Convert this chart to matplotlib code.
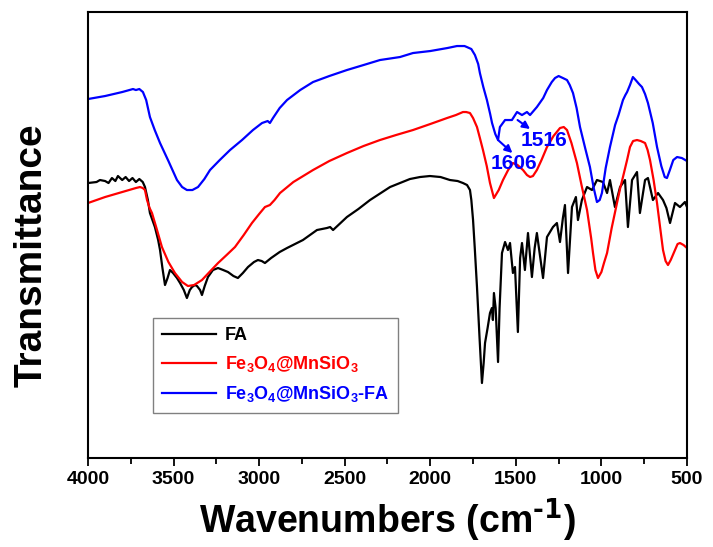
import numpy as np
import matplotlib
matplotlib.use("Agg")
import matplotlib.pyplot as plt

plt.rcParams['font.family'] = ['Liberation Sans', 'DejaVu Sans']
plt.rcParams['font.weight'] = 'bold'
plt.rcParams['mathtext.default'] = 'regular'

# FTIR spectra (wavenumber cm-1, transmittance a.u.)
fa_wn = [4000, 3950, 3930, 3900, 3880, 3860, 3840, 3825, 3800, 3780, 3760, 3740,
         3720, 3700, 3680, 3667, 3650, 3638, 3609, 3590, 3579, 3565, 3550, 3535,
         3521, 3503, 3480, 3462, 3440, 3422, 3405, 3392, 3375, 3363, 3345, 3334,
         3318, 3299, 3270, 3240, 3210, 3182, 3150, 3124, 3095, 3065, 3030, 3007,
         2985, 2966, 2930, 2880, 2837, 2744, 2662, 2604, 2585, 2568, 2487, 2420,
         2352, 2235, 2119, 2060, 2002, 1940, 1885, 1840, 1809, 1785, 1768, 1760,
         1750, 1740, 1727, 1712, 1698, 1688, 1680, 1665, 1651, 1640, 1634, 1628,
         1618, 1604, 1595, 1581, 1563, 1546, 1534, 1517, 1505, 1488, 1475, 1464,
         1447, 1429, 1406, 1390, 1377, 1341, 1318, 1283, 1260, 1242, 1225, 1213,
         1195, 1172, 1149, 1137, 1114, 1084, 1055, 1026, 991, 967, 950, 921,
         891, 862, 845, 821, 792, 775, 745, 728, 699, 669, 640, 620, 599, 570,
         541, 512, 500]
fa_t = [275, 276, 278, 277, 275, 280, 277, 282, 278, 281, 277, 280,
        276, 279, 276, 271, 258, 245, 231, 218, 208, 190, 173, 180,
        188, 185, 180, 175, 168, 160, 168, 171, 173, 172, 168, 163,
        172, 181, 188, 190, 188, 186, 182, 180, 185, 191, 196, 198,
        197, 195, 200, 206, 210, 218, 228, 230, 231, 228, 241, 249,
        258, 271, 279, 281, 282, 281, 278, 277, 275, 273, 268, 258,
        238, 210, 171, 120, 75, 95, 115, 130, 145, 150, 138, 165,
        150, 96, 150, 205, 216, 208, 215, 185, 191, 126, 200, 215,
        188, 225, 181, 210, 225, 180, 221, 231, 235, 216, 240, 253,
        185, 251, 261, 238, 258, 271, 268, 278, 276, 265, 278, 251,
        271, 278, 231, 278, 286, 245, 278, 280, 258, 265, 258, 250, 235, 255,
        251, 256, 251]

mn_wn = [4000, 3900, 3800, 3720, 3696, 3680, 3667, 3655, 3640, 3626, 3600, 3568,
         3530, 3492, 3450, 3416, 3380, 3334, 3290, 3240, 3190, 3141, 3090, 3042,
         3000, 2966, 2937, 2910, 2878, 2800, 2685, 2590, 2487, 2390, 2294, 2200,
         2101, 2000, 1902, 1850, 1809, 1790, 1768, 1750, 1727, 1710, 1692, 1670,
         1651, 1628, 1600, 1575, 1545, 1517, 1490, 1458, 1435, 1417, 1400, 1377,
         1350, 1318, 1280, 1242, 1220, 1201, 1175, 1143, 1115, 1084, 1060, 1049,
         1035, 1020, 1000, 985, 967, 940, 909, 890, 874, 850, 833, 815, 792,
         770, 745, 730, 716, 695, 675, 655, 640, 625, 611, 595, 580, 570, 555,
         541, 520, 500]
mn_t = [255, 261, 266, 270, 271, 270, 268, 258, 250, 245, 230, 211,
        196, 185, 176, 172, 173, 178, 186, 195, 203, 211, 223, 235,
        244, 251, 253, 258, 265, 276, 288, 297, 305, 312, 318, 323,
        328, 334, 340, 343, 346, 346, 345, 340, 331, 320, 308, 292,
        275, 260, 268, 278, 288, 295, 293, 288, 283, 281, 282, 288,
        298, 311, 322, 330, 331, 328, 315, 295, 272, 248, 220, 205,
        188, 180, 186, 195, 205, 230, 255, 270, 281, 298, 311, 317, 318,
        317, 315, 308, 298, 278, 255, 228, 208, 197, 193, 198, 204, 208, 214,
        215, 213, 210]

mnfa_wn = [4000, 3900, 3800, 3737, 3720, 3700, 3679, 3660, 3638, 3610, 3579, 3530,
           3480, 3450, 3422, 3390, 3357, 3320, 3287, 3230, 3170, 3100, 3036, 2983,
           2950, 2937, 2919, 2880, 2837, 2760, 2685, 2590, 2487, 2390, 2294, 2177,
           2101, 2000, 1900, 1844, 1800, 1786, 1760, 1739, 1720, 1710, 1690, 1669,
           1650, 1639, 1620, 1604, 1593, 1563, 1523, 1493, 1464, 1435, 1417, 1377,
           1340, 1318, 1290, 1271, 1250, 1225, 1201, 1185, 1166, 1145, 1125, 1095,
           1067, 1045, 1026, 1010, 997, 975, 950, 920, 900, 874, 860, 850, 833,
           816, 800, 780, 763, 745, 728, 700, 675, 650, 630, 617, 600, 580, 558,
           530, 500]
mnfa_t = [359, 362, 366, 369, 368, 369, 366, 358, 341, 328, 315, 297,
          278, 271, 268, 268, 271, 279, 288, 298, 308, 318, 328, 335,
          337, 335, 340, 350, 358, 368, 376, 382, 388, 393, 398, 401,
          405, 407, 410, 412, 412, 411, 409, 403, 394, 385, 371, 358,
          344, 335, 324, 318, 331, 338, 338, 346, 343, 346, 343, 351,
          360, 368, 376, 380, 382, 380, 378, 373, 365, 350, 331, 310,
          291, 270, 256, 258, 265, 290, 311, 333, 343, 358, 363, 366, 373,
          381, 378, 374, 371, 364, 355, 335, 311, 292, 281, 280, 288, 298, 301,
          300, 297]

names = ['FA', 'Fe$_3$O$_4$@MnSiO$_3$', 'Fe$_3$O$_4$@MnSiO$_3$-FA']
colors = ['#000000', '#ff0000', '#0000ff']
xticks = [4000, 3500, 3000, 2500, 2000, 1500, 1000, 500]

fig = plt.figure(figsize=(7.13, 5.47), dpi=100)
ax = fig.add_axes([0.1234, 0.1627, 0.8401, 0.8153])

for wn, t, name, c in zip([fa_wn, mn_wn, mnfa_wn], [fa_t, mn_t, mnfa_t], names, colors):
    ax.plot(wn, t, color=c, lw=1.6, label=name)

ax.set_xlim(4000, 500)
ax.set_ylim(0, 446)
ax.set_xticks(xticks)
ax.set_xticks([3750, 3250, 2750, 2250, 1750, 1250, 750], minor=True)
ax.set_yticks([])
ax.tick_params(axis='x', which='major', direction='out', length=6, width=1.3,
               labelsize=14, pad=3, top=False)
ax.tick_params(axis='x', which='minor', direction='out', length=4, width=1.3, top=False)
for lab in ax.get_xticklabels():
    lab.set_fontweight('bold')
for s in ax.spines.values():
    s.set_linewidth(1.5)

ax.set_xlabel(r'Wavenumbers (cm$^{\text{-1}}$)', fontsize=27, fontweight='bold', labelpad=6)
ax.set_ylabel('Transmittance', fontsize=28, fontweight='bold')
ax.yaxis.set_label_coords(-0.064, 0.455)

# peak labels
arrow = dict(arrowstyle='-|>', color='#0000ff', lw=1.5, mutation_scale=11,
             shrinkA=0, shrinkB=0)
ax.annotate('', xy=(1520, 305), xytext=(1604, 318), arrowprops=arrow)
ax.annotate('', xy=(1417, 329), xytext=(1490, 338), arrowprops=arrow)
ax.text(1511, 295, '1606', color='#0000ff', fontsize=15, fontweight='bold',
        ha='center', va='center')
ax.text(1336, 318, '1516', color='#0000ff', fontsize=15, fontweight='bold',
        ha='center', va='center')

leg = ax.legend(loc='upper left', bbox_to_anchor=(0.108, 0.314), borderaxespad=0,
                fancybox=False, framealpha=1, edgecolor='#808080', handlelength=3.0,
                prop={'size': 13, 'weight': 'bold'}, labelspacing=0.55,
                borderpad=0.5, handletextpad=0.5)
leg.get_frame().set_linewidth(1.0)
for txt, c in zip(leg.get_texts(), colors):
    txt.set_color(c)

fig.savefig('out.png', dpi=100)
